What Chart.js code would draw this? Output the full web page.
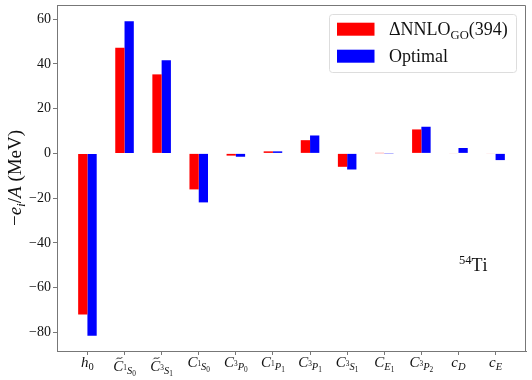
<!DOCTYPE html>
<html>
<head>
<meta charset="utf-8">
<script src="https://cdn.jsdelivr.net/npm/chart.js@4.4.1/dist/chart.umd.min.js"></script>
<style>
  body { margin: 0; background: #fff; }
</style>
</head>
<body>
<canvas id="lecChart" width="532" height="380"></canvas>
<script>
// ===== DATA =====
// tick labels in a tiny tex-like notation: _ sub, ^ sup, ~ tilde, ` toggles italic
const couplings = ["h_0", "~C_{^1S_0}", "~C_{^3S_1}", "C_{^1S_0}", "C_{^3P_0}", "C_{^1P_1}",
                   "C_{^3P_1}", "C_{^3S_1}", "C_{E_1}", "C_{^3P_2}", "c_D", "c_E"];
const deltaGO = [-72.0, 47.2, 35.3, -16.1, -1.0, 0.9, 5.9, -6.0, 0.1, 10.7, -0.2, -0.2];
const optimal = [-81.5, 59.0, 41.6, -21.9, -1.5, 0.9, 8.0, -7.2, -0.1, 11.9, 2.4, -3.0];
const yTicks = [-80, -60, -40, -20, 0, 20, 40, 60];
const seriesNames = ["`ΔNNLO_{GO}(394)", "`Optimal"];
const seriesColors = ["#ff0000", "#0000ff"];
const yTitle = "−e_i/A `(MeV)";
const nucleus = "`^{54}Ti";

const FONT = "'Liberation Serif', 'DejaVu Serif', serif";
const INK = "#111";
const SPINE = "#777";

// ===== MINI TEX =====
function parseTex(s) {
    let i = 0;
    let italic = true;
    function readArg() {
        if (s[i] === "{") {
            i++;
            const g = readGroup();
            i++; // skip }
            return g;
        }
        return readGroup(1);
    }
    function readGroup(limit) {
        const nodes = [];
        let tilde = false;
        let count = 0;
        while (i < s.length && s[i] !== "}") {
            const c = s[i];
            if (c === "`") { italic = !italic; i++; continue; }
            if (c === "~") { tilde = true; i++; continue; }
            if (c === "_" || c === "^") {
                i++;
                const arg = readArg();
                let base = nodes[nodes.length - 1];
                if (!base) { base = { t: "", it: false, sub: [], sup: [] }; nodes.push(base); }
                (c === "_" ? base.sub : base.sup).push(...arg);
                continue;
            }
            if (limit && count >= limit) break;
            nodes.push({ t: c, it: italic && /[A-Za-z]/.test(c), tilde: tilde, sub: [], sup: [] });
            tilde = false;
            i++;
            count++;
        }
        return nodes;
    }
    return readGroup();
}

function drawTex(ctx, nodes, x, y, size, draw) {
    let cx = x;
    for (const n of nodes) {
        ctx.font = (n.it ? "italic " : "") + size + "px " + FONT;
        const w = n.t ? ctx.measureText(n.t).width : 0;
        if (draw && n.t) ctx.fillText(n.t, cx, y);
        if (draw && n.tilde) {
            const tx = cx + w * 0.6, ty = y - size * 0.82, hw = size * 0.2;
            ctx.beginPath();
            ctx.moveTo(tx - hw, ty + 1);
            ctx.bezierCurveTo(tx - hw * 0.4, ty - 1.8, tx + hw * 0.4, ty + 1.8, tx + hw, ty - 1);
            ctx.lineWidth = 0.9;
            ctx.strokeStyle = INK;
            ctx.stroke();
        }
        cx += w;
        let ws = 0, wp = 0;
        if (n.sub.length) ws = drawTex(ctx, n.sub, cx, y + size * 0.22, size * 0.7, draw);
        if (n.sup.length) wp = drawTex(ctx, n.sup, cx, y - size * 0.36, size * 0.7, draw);
        cx += Math.max(ws, wp);
    }
    return cx - x;
}

function texWidth(ctx, nodes, size) {
    return drawTex(ctx, nodes, 0, 0, size, false);
}

// ===== DECORATIONS PLUGIN =====
const decorations = {
    id: "decorations",
    afterDraw(chart) {
        const ctx = chart.ctx;
        const area = chart.chartArea;
        const xs = chart.scales.x;
        ctx.save();
        ctx.fillStyle = INK;
        ctx.textBaseline = "alphabetic";
        ctx.textAlign = "left";

        // top / right spines
        ctx.strokeStyle = SPINE;
        ctx.lineWidth = 1;
        ctx.beginPath();
        ctx.moveTo(area.left, area.top + 0.5);
        ctx.lineTo(area.right - 0.5, area.top + 0.5);
        ctx.lineTo(area.right - 0.5, area.bottom);
        ctx.stroke();

        // x tick labels
        couplings.forEach((lab, i) => {
            const nodes = parseTex(lab);
            const w = texWidth(ctx, nodes, 15);
            const px = xs.getPixelForValue(i);
            const base = lab[0] === "~" ? 370.5 : 366.5;
            drawTex(ctx, nodes, px - w / 2, base, 15, true);
        });

        // y title
        const tnodes = parseTex(yTitle);
        const tw = texWidth(ctx, tnodes, 19);
        ctx.save();
        ctx.translate(21, (area.top + area.bottom) / 2);
        ctx.rotate(-Math.PI / 2);
        drawTex(ctx, tnodes, -tw / 2, 0, 19, true);
        ctx.restore();

        // nucleus tag
        drawTex(ctx, parseTex(nucleus), 459, 270.5, 18, true);

        // legend
        const lx = 329.5, ly = 14.5, lw = 187, lh = 58;
        ctx.beginPath();
        ctx.roundRect(lx, ly, lw, lh, 3);
        ctx.fillStyle = "rgba(255,255,255,0.8)";
        ctx.fill();
        ctx.strokeStyle = "#dddddd";
        ctx.lineWidth = 1;
        ctx.stroke();
        seriesNames.forEach((name, k) => {
            const cy = 29.2 + k * 27;
            ctx.fillStyle = seriesColors[k];
            ctx.fillRect(337, cy - 6.5, 37.5, 13);
            ctx.fillStyle = INK;
            drawTex(ctx, parseTex(name), 389, cy + 6, 18, true);
        });
        ctx.restore();
    }
};

// ===== CHART =====
function initChart() {
    const ctx = document.getElementById("lecChart");

    new Chart(ctx, {
        type: "bar",
        data: {
            datasets: [deltaGO, optimal].map((vals, k) => ({
                label: seriesNames[k],
                data: vals.map((v, i) => ({ x: i, y: v })),
                backgroundColor: seriesColors[k],
                borderWidth: 0,
                barPercentage: 1.0,
                categoryPercentage: 0.5
            }))
        },
        options: {
            responsive: false,
            animation: false,
            devicePixelRatio: 1,
            layout: { padding: { top: 5, right: 6, left: 0, bottom: 0 } },
            plugins: {
                legend: { display: false },
                tooltip: { enabled: false }
            },
            scales: {
                x: {
                    type: "linear",
                    offset: false,
                    min: -0.82,
                    max: 11.82,
                    afterBuildTicks: s => { s.ticks = couplings.map((c, i) => ({ value: i })); },
                    afterFit: s => { s.height = 29; s.paddingLeft = 0; s.paddingRight = 0; },
                    grid: { offset: false, drawOnChartArea: false, drawTicks: true, tickLength: 4, color: SPINE },
                    border: { color: SPINE, width: 1 },
                    ticks: { autoSkip: false, callback: () => "" }
                },
                y: {
                    min: -88.3,
                    max: 66.3,
                    afterBuildTicks: s => { s.ticks = yTicks.map(v => ({ value: v })); },
                    afterFit: s => { s.width = 57; s.paddingTop = 0; s.paddingBottom = 0; },
                    grid: { drawOnChartArea: false, drawTicks: true, tickLength: 4, color: SPINE },
                    border: { color: SPINE, width: 1 },
                    ticks: {
                        color: INK,
                        padding: 2,
                        font: { family: FONT, size: 14 },
                        callback: v => String(v).replace("-", "−")
                    }
                }
            }
        },
        plugins: [decorations]
    });
}

document.addEventListener("DOMContentLoaded", initChart);
</script>
</body>
</html>
